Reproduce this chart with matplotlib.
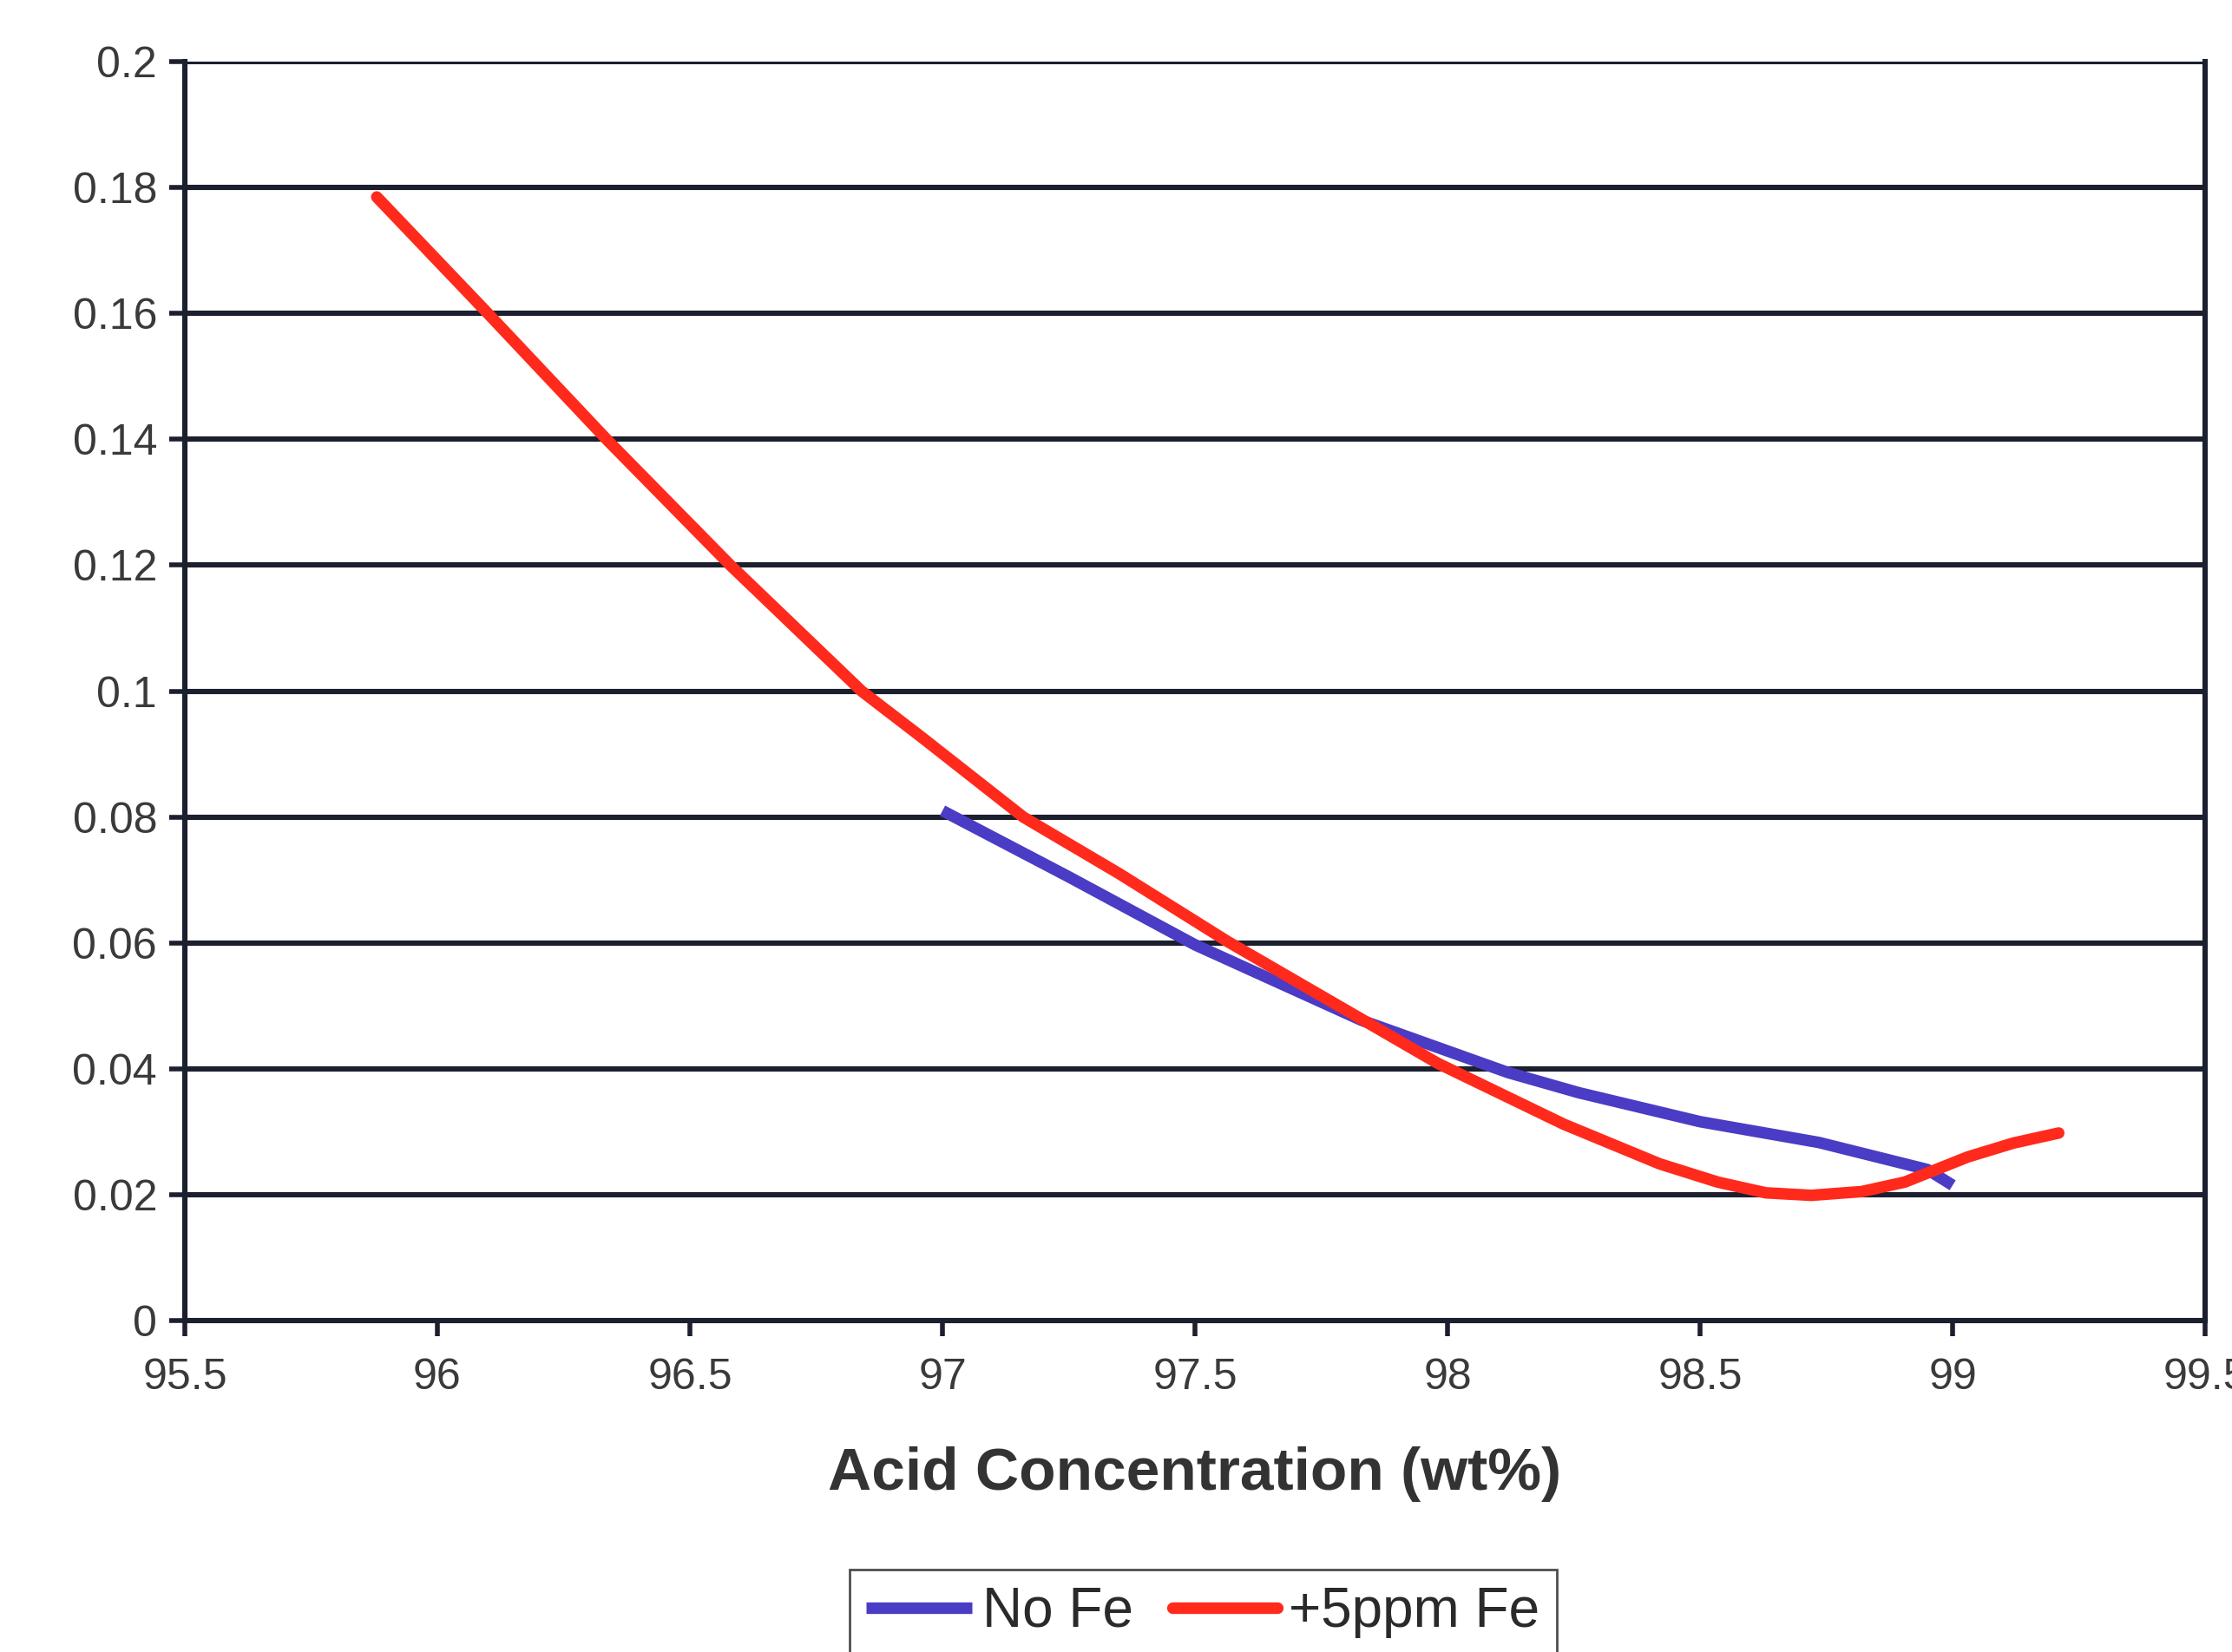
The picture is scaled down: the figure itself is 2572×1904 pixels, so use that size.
import matplotlib
matplotlib.use("Agg")
import matplotlib.pyplot as plt

plt.rcParams['font.family'] = ['Liberation Sans', 'DejaVu Sans']

# --- data ---
x_fe = [95.88, 96.10, 96.335, 96.58, 96.84, 96.96, 97.16, 97.35, 97.565, 97.78,
        97.98, 98.23, 98.42, 98.535, 98.63, 98.72, 98.82, 98.905, 99.03, 99.12, 99.21]
y_fe = [0.1785, 0.160, 0.140, 0.120, 0.100, 0.0926, 0.080, 0.071, 0.0602, 0.0502,
        0.0409, 0.0312, 0.0249, 0.0220, 0.0203, 0.0199, 0.0205, 0.0220, 0.0260, 0.0282, 0.0298]

x_nofe = [97.00, 97.25, 97.50, 97.83, 98.12, 98.26, 98.50, 98.735, 98.95, 99.00]
y_nofe = [0.081, 0.0705, 0.0597, 0.0477, 0.0394, 0.0362, 0.0316, 0.0283, 0.0240, 0.0215]

x_ticks = [95.5, 96, 96.5, 97, 97.5, 98, 98.5, 99, 99.5]
x_tick_labels = ['95.5', '96', '96.5', '97', '97.5', '98', '98.5', '99', '99.5']
y_ticks = [0, 0.02, 0.04, 0.06, 0.08, 0.1, 0.12, 0.14, 0.16, 0.18, 0.2]
y_tick_labels = ['0', '0.02', '0.04', '0.06', '0.08', '0.1', '0.12', '0.14', '0.16', '0.18', '0.2']

grid_col = '#1b1f2e'
text_col = '#3a3a3a'

fig = plt.figure(figsize=(12.86, 9.52), dpi=200)
ax = fig.add_axes([0.0828, 0.2006, 0.9052, 0.7621])

# Excel-style horizontal gridlines
for yv in y_ticks[1:]:
    ax.axhline(yv, color=grid_col, lw=2.2, zorder=1)

ax.plot(x_nofe, y_nofe, color='#4a3cc4', lw=4.8, solid_capstyle='butt',
        solid_joinstyle='round', zorder=3, label='No Fe')
ax.plot(x_fe, y_fe, color='#ff2a1c', lw=4.8, solid_capstyle='round',
        solid_joinstyle='round', zorder=4, label='+5ppm Fe')

ax.set_xlim(95.5, 99.5)
ax.set_ylim(0, 0.2)
ax.set_xticks(x_ticks)
ax.set_xticklabels(x_tick_labels)
ax.set_yticks(y_ticks)
ax.set_yticklabels(y_tick_labels)

for s in ax.spines.values():
    s.set_color(grid_col)
    s.set_linewidth(2.2)
ax.spines['top'].set_visible(False)

ax.tick_params(axis='both', direction='out', length=6.5, width=2.0, color=grid_col,
               labelsize=18, labelcolor=text_col, pad=5)
ax.tick_params(axis='x', pad=9)

ax.set_xlabel('Acid Concentration (wt%)', fontsize=25, fontweight='bold', color='#333333',
              labelpad=20)

# legend box runs off the bottom edge, as in the scan
fig.legend(loc='upper center', bbox_to_anchor=(0.539, 0.050), ncol=2, fontsize=23,
           frameon=True, fancybox=False, edgecolor='#222222', handlelength=1.9,
           handletextpad=0.2, columnspacing=0.7, borderpad=0.3, borderaxespad=0,
           labelcolor='#2a2a2a')

fig.savefig('out.png', dpi=200, facecolor='white')
